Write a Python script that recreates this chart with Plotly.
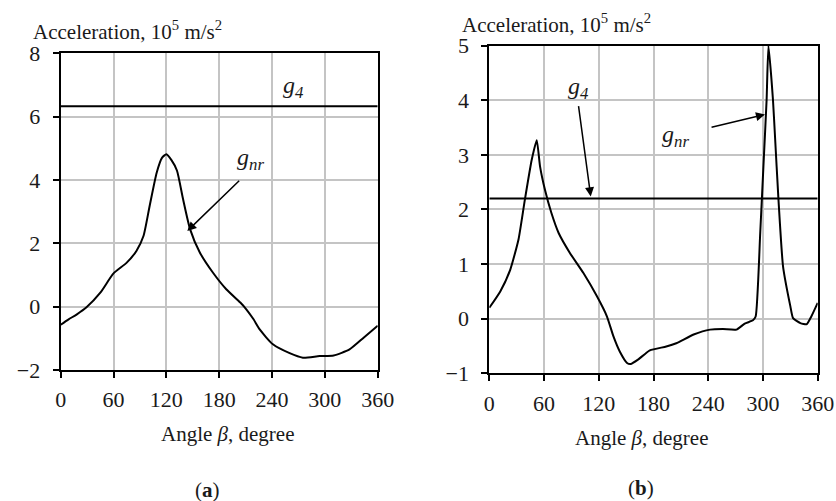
import plotly.graph_objects as go

# ---------------- data ----------------
deg_a = [0, 9, 18, 29, 45, 60, 75, 86, 94, 101, 109, 115, 120, 126, 132, 139, 147, 158,
         173, 188, 204, 211, 219, 226, 241, 260, 275, 294, 310, 328, 344, 360]
gnr_a = [-0.57, -0.4, -0.25, -0.03, 0.44, 1.05, 1.39, 1.76, 2.23, 3.18, 4.23, 4.7, 4.81,
         4.62, 4.3, 3.39, 2.44, 1.71, 1.07, 0.55, 0.13, -0.09, -0.4, -0.72, -1.19, -1.47,
         -1.61, -1.56, -1.54, -1.35, -0.98, -0.6]
g4_a_deg = [0, 360]
g4_a = [6.33, 6.33]

deg_b = [0, 12, 23, 32, 39, 46.5, 52, 55.6, 61, 68, 76, 88.5, 103, 118, 129, 136, 143, 151,
         155, 163, 176, 194, 205, 224, 242, 256, 271, 280, 289, 292, 297, 300.5, 304, 306,
         311, 313, 317, 322, 330, 333, 341, 348, 353, 360]
gnr_b = [0.2, 0.5, 0.9, 1.45, 2.18, 2.91, 3.27, 2.79, 2.36, 1.94, 1.57, 1.2, 0.84, 0.41,
         0.04, -0.32, -0.6, -0.81, -0.83, -0.75, -0.58, -0.51, -0.45, -0.29, -0.2, -0.19,
         -0.2, -0.09, -0.03, 0.04, 1.57, 2.79, 4.01, 5.0, 4.0, 3.4, 2.18, 0.96, 0.23, 0.01,
         -0.08, -0.1, 0.04, 0.29]
g4_b_deg = [0, 360]
g4_b = [2.2, 2.2]

x_ticks = [0, 60, 120, 180, 240, 300, 360]
y_ticks_a = [-2, 0, 2, 4, 6, 8]
y_ticks_b = [-1, 0, 1, 2, 3, 4, 5]

FONT = "Liberation Serif"
TXT = "#1a1a1a"
FS = 22


def f(size=FS):
    return dict(family=FONT, size=size, color=TXT)


fig = go.Figure()
line_style = dict(color="black", width=2)

fig.add_trace(go.Scatter(x=deg_a, y=gnr_a, mode="lines", line=dict(color="black", width=2, shape="spline", smoothing=0.6),
                         xaxis="x", yaxis="y", showlegend=False))
fig.add_trace(go.Scatter(x=g4_a_deg, y=g4_a, mode="lines", line=line_style, xaxis="x", yaxis="y", showlegend=False))
fig.add_trace(go.Scatter(x=deg_b, y=gnr_b, mode="lines", line=dict(color="black", width=2, shape="spline", smoothing=0.5),
                         xaxis="x2", yaxis="y2", showlegend=False))
fig.add_trace(go.Scatter(x=g4_b_deg, y=g4_b, mode="lines", line=line_style, xaxis="x2", yaxis="y2", showlegend=False))

ax_common = dict(showline=True, linecolor="black", linewidth=2, mirror=True, automargin=False,
                 showgrid=True, gridcolor="#c4c4c4", gridwidth=1.5, zeroline=False,
                 ticks="outside", ticklen=6, tickwidth=2, tickcolor="black",
                 tickfont=f())
x_extra = dict(ticklabelstandoff=3)
y_extra = dict(ticklabelstandoff=8)

fig.update_layout(
    width=836, height=501, margin=dict(l=0, r=0, t=0, b=0, autoexpand=False),
    paper_bgcolor="white", plot_bgcolor="white",
    font=f(),
    xaxis=dict(domain=[0.0726, 0.4518], range=[0, 360], tickvals=x_ticks, anchor="y", **ax_common, **x_extra),
    yaxis=dict(domain=[0.2615, 0.8936], range=[-2, 8], tickvals=y_ticks_a, anchor="x", **ax_common, **y_extra),
    xaxis2=dict(domain=[0.5853, 0.9781], range=[0, 360], tickvals=x_ticks, anchor="y2", **ax_common, **x_extra),
    yaxis2=dict(domain=[0.2549, 0.9088], range=[-1, 5], tickvals=y_ticks_b, anchor="x2", **ax_common, **y_extra),
)

ann = []
# axis titles
ann.append(dict(text="Acceleration, 10<sup>5</sup> m/s<sup>2</sup>", xref="paper", yref="paper",
                x=31 / 836, y=0.94, xanchor="left", yanchor="middle", showarrow=False, font=f(21)))
ann.append(dict(text="Acceleration, 10<sup>5</sup> m/s<sup>2</sup>", xref="paper", yref="paper",
                x=460 / 836, y=0.953, xanchor="left", yanchor="middle", showarrow=False, font=f(21)))
ann.append(dict(text="Angle <i>β</i>, degree", xref="paper", yref="paper",
                x=228 / 836, y=0.134, xanchor="center", yanchor="middle", showarrow=False, font=f(21)))
ann.append(dict(text="Angle <i>β</i>, degree", xref="paper", yref="paper",
                x=642 / 836, y=0.126, xanchor="center", yanchor="middle", showarrow=False, font=f(21)))
ann.append(dict(text="(<b>a</b>)", xref="paper", yref="paper",
                x=207 / 836, y=0.022, xanchor="center", yanchor="middle", showarrow=False, font=f(21)))
ann.append(dict(text="(<b>b</b>)", xref="paper", yref="paper",
                x=641 / 836, y=0.026, xanchor="center", yanchor="middle", showarrow=False, font=f(21)))
# labels in plot (a)
ann.append(dict(text="<i>g<sub>4</sub></i>", xref="x", yref="y", x=264, y=6.93, showarrow=False, font=f(24)))
ann.append(dict(text="<i>g<sub>nr</sub></i>", xref="x", yref="y", x=215, y=4.65, showarrow=False, font=f(24)))
ann.append(dict(text="", xref="x", yref="y", x=143.8, y=2.39, axref="x", ayref="y", ax=204.4, ay=4.02,
                showarrow=True, arrowhead=2, arrowsize=1.2, arrowwidth=1.5, arrowcolor="black"))
# labels in plot (b)
ann.append(dict(text="<i>g<sub>4</sub></i>", xref="x2", yref="y2", x=97.4, y=4.22, showarrow=False, font=f(24)))
ann.append(dict(text="<i>g<sub>nr</sub></i>", xref="x2", yref="y2", x=204.6, y=3.34, showarrow=False, font=f(24)))
ann.append(dict(text="", xref="x2", yref="y2", x=111.2, y=2.24, axref="x2", ayref="y2", ax=97.6, ay=3.92,
                showarrow=True, arrowhead=2, arrowsize=1.2, arrowwidth=1.5, arrowcolor="black"))
ann.append(dict(text="", xref="x2", yref="y2", x=302.2, y=3.74, axref="x2", ayref="y2", ax=242, ay=3.5,
                showarrow=True, arrowhead=2, arrowsize=1.2, arrowwidth=1.5, arrowcolor="black"))
fig.update_layout(annotations=ann)

fig.write_html("out.html")
